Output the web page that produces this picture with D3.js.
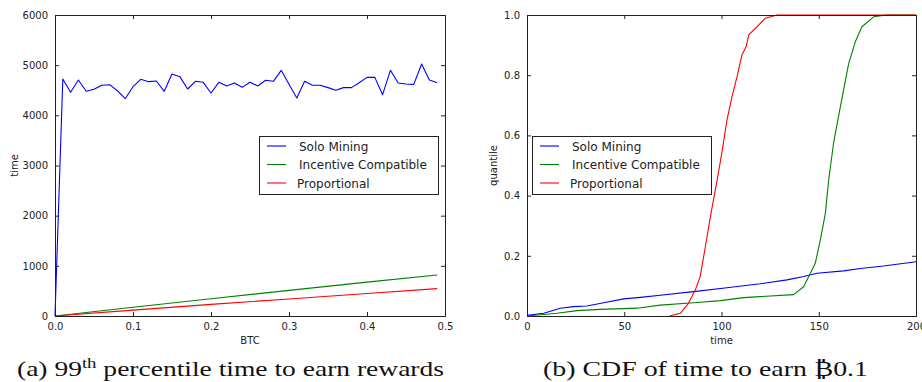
<!doctype html>
<html>
<head>
  <meta charset="utf-8">
  <script src="https://cdnjs.cloudflare.com/ajax/libs/d3/7.8.5/d3.min.js"></script>
  <style>
    body { margin: 0; background: #fff; }
    svg { display: block; }
    .tick text { font-family: "DejaVu Sans", sans-serif; font-size: 10px; fill: #222; }
    .lab { font-family: "DejaVu Sans", sans-serif; font-size: 10px; fill: #222; }
    .leg { font-family: "DejaVu Sans", sans-serif; font-size: 12px; fill: #222; }
    .cap { font-family: "Liberation Serif", "DejaVu Serif", serif; font-size: 22px; fill: #111; }
  </style>
  <title>Mining rewards</title>
</head>
<body>
  <svg width="922" height="382"></svg>
  <script>
    // series names and colours (matplotlib classic)
    var seriesNames = ["Solo Mining", "Incentive Compatible", "Proportional"];
    var seriesColors = ["#0000ff", "#008000", "#ff0000"];

    // (a) 99th percentile time vs BTC
    var btc = [0, 0.01, 0.02, 0.03, 0.04, 0.05, 0.06, 0.07, 0.08, 0.09,
      0.10, 0.11, 0.12, 0.13, 0.14, 0.15, 0.16, 0.17, 0.18, 0.19,
      0.20, 0.21, 0.22, 0.23, 0.24, 0.25, 0.26, 0.27, 0.28, 0.29,
      0.30, 0.31, 0.32, 0.33, 0.34, 0.35, 0.36, 0.37, 0.38, 0.39,
      0.40, 0.41, 0.42, 0.43, 0.44, 0.45, 0.46, 0.47, 0.48, 0.49];
    var soloTime = [0, 4724, 4459, 4704, 4479, 4519, 4599, 4611, 4491, 4332,
      4571, 4718, 4671, 4684, 4479, 4824, 4771, 4525, 4678, 4658,
      4445, 4658, 4585, 4645, 4558, 4658, 4585, 4698, 4678, 4897,
      4620, 4346, 4678, 4599, 4599, 4552, 4499, 4552, 4552, 4651,
      4757, 4757, 4412, 4897, 4645, 4625, 4618, 5023, 4704, 4651];
    var btcSample = [0, 0.1, 0.2, 0.3, 0.4, 0.49];
    var incentiveTime = [0, 175, 345, 510, 675, 817];
    var proportionalTime = [0, 118, 232, 340, 448, 545];
    var btcTicks = [0, 0.1, 0.2, 0.3, 0.4, 0.5];
    var timeTicks = [0, 1000, 2000, 3000, 4000, 5000, 6000];

    // (b) CDF of time to earn 0.1 BTC
    var soloCdfT = [0, 8.6, 17.1, 24, 30.8, 39.4, 49.7, 58.3, 68.5, 85.7, 102.8, 120, 133.7, 142.2, 149.1, 162.8, 171.4, 183.3, 200];
    var soloCdfQ = [0.002, 0.009, 0.026, 0.031, 0.033, 0.044, 0.057, 0.062, 0.069, 0.081, 0.094, 0.107, 0.12, 0.131, 0.142, 0.150, 0.158, 0.166, 0.180];
    var incCdfT = [0, 15.4, 25.7, 37.7, 56.6, 68.5, 85.7, 99.4, 111.4, 137.1, 142.2, 145.7, 148.2, 150.8, 153.4, 155.1, 157.6, 161.1, 165.4, 168.8, 172.2, 178.2, 185.1, 200];
    var incCdfQ = [0, 0.009, 0.018, 0.022, 0.026, 0.036, 0.044, 0.051, 0.061, 0.071, 0.097, 0.142, 0.175, 0.252, 0.341, 0.452, 0.574, 0.695, 0.839, 0.911, 0.961, 0.994, 1.0, 1.0];
    var propCdfT = [73.3, 78.8, 83, 86.5, 89, 91.7, 94.3, 97.7, 100.2, 102.8, 105.4, 108, 110.5, 112.7, 114, 118.3, 122.5, 128.5, 200];
    var propCdfQ = [0, 0.009, 0.042, 0.086, 0.13, 0.23, 0.33, 0.45, 0.543, 0.651, 0.729, 0.795, 0.867, 0.895, 0.934, 0.961, 0.989, 1.0, 1.0];
    var timeCdfTicks = [0, 50, 100, 150, 200];
    var quantTicks = [0, 0.2, 0.4, 0.6, 0.8, 1.0];

    var svg = d3.select("svg");

    function zip(xs, ys) { return xs.map(function (x, i) { return [x, ys[i]]; }); }

    function panel(opt) {
      var x = d3.scaleLinear().domain(opt.xDomain).range([opt.left, opt.right]);
      var y = d3.scaleLinear().domain(opt.yDomain).range([opt.bottom, opt.top]);
      var g = svg.append("g");

      // series
      var line = d3.line().x(function (d) { return x(d[0]); }).y(function (d) { return y(d[1]); });
      opt.series.forEach(function (s, i) {
        g.append("path").datum(s).attr("fill", "none")
          .attr("stroke", seriesColors[i]).attr("stroke-width", 1.1)
          .attr("stroke-linejoin", "round")
          .attr("d", line);
      });

      // axes: ticks inward on all four sides
      var ax = [
        [d3.axisBottom(x).tickValues(opt.xTicks).tickFormat(opt.xFmt), "translate(0," + opt.bottom + ")", true],
        [d3.axisTop(x).tickValues(opt.xTicks), "translate(0," + opt.top + ")", false],
        [d3.axisLeft(y).tickValues(opt.yTicks).tickFormat(opt.yFmt), "translate(" + opt.left + ",0)", true],
        [d3.axisRight(y).tickValues(opt.yTicks), "translate(" + opt.right + ",0)", false]
      ];
      ax.forEach(function (a) {
        var sel = g.append("g").attr("transform", a[1])
          .call(a[0].tickSizeInner(-4).tickSizeOuter(0).tickPadding(7));
        sel.select(".domain").remove();
        sel.selectAll("line").attr("stroke", "#222");
        if (!a[2]) sel.selectAll("text").remove();
      });

      g.append("rect").attr("x", opt.left + 0.5).attr("y", opt.top + 0.5)
        .attr("width", opt.right - opt.left).attr("height", opt.bottom - opt.top)
        .attr("fill", "none").attr("stroke", "#222").attr("stroke-width", 1);

      // axis labels
      g.append("text").attr("class", "lab").attr("text-anchor", "middle")
        .attr("x", (opt.left + opt.right) / 2).attr("y", opt.bottom + 28).text(opt.xLabel);
      g.append("text").attr("class", "lab").attr("text-anchor", "middle")
        .attr("transform", "translate(" + opt.yLabelX + "," + (opt.top + opt.bottom) / 2 + ") rotate(-90)")
        .text(opt.yLabel);

      // legend
      var lg = g.append("g").attr("transform", "translate(" + opt.legX + "," + opt.legY + ")");
      lg.append("rect").attr("x", 0.5).attr("y", 0.5).attr("width", opt.legW).attr("height", 58)
        .attr("fill", "#fff").attr("stroke", "#222");
      seriesNames.forEach(function (n, i) {
        var yy = 10 + i * 18.5;
        lg.append("line").attr("x1", 8).attr("x2", 27).attr("y1", yy).attr("y2", yy)
          .attr("stroke", seriesColors[i]).attr("stroke-width", 1.1);
        lg.append("text").attr("class", "leg").attr("x", i === 2 ? 38 : 40).attr("y", yy + 4.5).text(n);
      });

      // caption
      var cap = svg.append("text").attr("class", "cap").attr("x", opt.capX).attr("y", 376);
      opt.caption(cap);
      cap.attr("textLength", opt.capW).attr("lengthAdjust", "spacingAndGlyphs");
    }

    panel({
      left: 55, right: 445, top: 15, bottom: 316,
      xDomain: [0, 0.5], yDomain: [0, 6000],
      xTicks: btcTicks, yTicks: timeTicks,
      xFmt: d3.format(".1f"), yFmt: d3.format("d"),
      series: [zip(btc, soloTime), zip(btcSample, incentiveTime), zip(btcSample, proportionalTime)],
      xLabel: "BTC", yLabel: "time", yLabelX: 18,
      legX: 259, legY: 136, legW: 179,
      capX: 17, capW: 427,
      caption: function (t) {
        t.append("tspan").text("(a) 99");
        t.append("tspan").attr("dy", -8).attr("font-size", "15px").text("th");
        t.append("tspan").attr("dy", 8).text(" percentile time to earn rewards");
      }
    });

    panel({
      left: 527, right: 916, top: 15, bottom: 316,
      xDomain: [0, 200], yDomain: [0, 1],
      xTicks: timeCdfTicks, yTicks: quantTicks,
      xFmt: d3.format("d"), yFmt: d3.format(".1f"),
      series: [zip(soloCdfT, soloCdfQ), zip(incCdfT, incCdfQ), zip(propCdfT, propCdfQ)],
      xLabel: "time", yLabel: "quantile", yLabelX: 497,
      legX: 532, legY: 136, legW: 179,
      capX: 543, capW: 325,
      caption: function (t) {
        t.text("(b) CDF of time to earn \u20BF0.1");
      }
    });
  </script>
</body>
</html>
